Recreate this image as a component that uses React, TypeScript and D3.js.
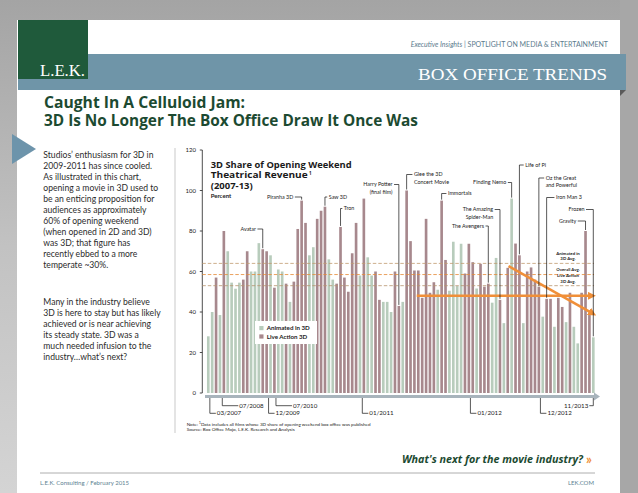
import React from "react";
import * as d3 from "d3";

// ---------- DATA ----------
const shares = [
  28, 40, 57, 38.5, 80, 70, 54.5, 51.5, 54.5, 56,
  70, 60, 60, 74, 71, 70, 68, 52, 61, 60,
  54, 45, 55, 81, 95, 84, 68, 72, 86, 90,
  92, 66, 56, 54, 82, 57, 50, 69, 84, 58,
  96, 67, 58, 60, 46, 45, 45, 40, 60, 43,
  45, 100, 75, 60.5, 60.5, 47, 86, 49.5, 54.7, 51,
  95, 65.7, 50.5, 74.7, 52.8, 73.7, 59, 73.7, 64.6, 51.6,
  63.8, 52.5, 54, 44.6, 66.7, 46, 34.5, 61.8, 96, 73.8,
  68, 34.5, 60, 62, 56, 52.5, 37.7, 46.5, 46.5, 32.7,
  47, 42.5, 35, 49.5, 32.7, 24.5, 49.5, 80, 38.5, 27.5,
];
// A = Animated in 3D, L = Live Action 3D
const filmType = (
  "AALALAAAAL" + "LAAALLALAA" + "LALLLLAALL" + "LAALLLLLLA" + "LAALLAAALL" +
  "ALLLLLLLLA" + "LLAAAALLLA" + "LLLAALALAL" + "LALLLLALLA" + "LLALAALLLA"
).split("");

const seriesNames = ["Animated in 3D", "Live Action 3D"];
const yTicks = [0, 20, 40, 60, 80, 100, 120];

const averages = [
  { key: "anim", label: ["Animated in", "3D Avg."], value: 64 },
  { key: "all", label: ["Overall Avg."], value: 58.5 },
  { key: "live", label: ["Live Action", "3D Avg."], value: 53 },
];

const annotations = [
  { film: ["Avatar"], bar: 14 },
  { film: ["Piranha 3D"], bar: 24 },
  { film: ["Saw 3D"], bar: 30 },
  { film: ["Tron"], bar: 34 },
  { film: ["Harry Potter", "(final film)"], bar: 49 },
  { film: ["Glee the 3D", "Concert Movie"], bar: 51 },
  { film: ["Immortals"], bar: 60 },
  { film: ["The Avengers"], bar: 72 },
  { film: ["The Amazing", "Spider-Man"], bar: 75 },
  { film: ["Finding Nemo"], bar: 78 },
  { film: ["Life of Pi"], bar: 80 },
  { film: ["Oz the Great", "and Powerful"], bar: 85 },
  { film: ["Iron Man 3"], bar: 87 },
  { film: ["Gravity"], bar: 97 },
  { film: ["Frozen"], bar: 99 },
];

const dateTicks = [
  { label: "03/2007", pos: 0.4 },
  { label: "07/2008", pos: 3.6 },
  { label: "12/2009", pos: 15.5 },
  { label: "07/2010", pos: 17.4 },
  { label: "01/2011", pos: 39.6 },
  { label: "01/2012", pos: 67.4 },
  { label: "12/2012", pos: 85.4 },
  { label: "11/2013", pos: 99 },
];

const flatTrend = [
  { pos: 53.6, value: 48 },
  { pos: 98.6, value: 48 },
];
const fallingTrend = [
  { pos: 77.2, value: 62.7 },
  { pos: 98.8, value: 39.3 },
];

const bodyText1 = [
  "Studios\u2019 enthusiasm for 3D in",
  "2009-2011 has since cooled.",
  "As illustrated in this chart,",
  "opening a movie in 3D used to",
  "be an enticing proposition for",
  "audiences as approximately",
  "60% of opening weekend",
  "(when opened in 2D and 3D)",
  "was 3D; that figure has",
  "recently ebbed to a more",
  "temperate ~30%.",
];
const bodyText2 = [
  "Many in the industry believe",
  "3D is here to stay but has likely",
  "achieved or is near achieving",
  "its steady state. 3D was a",
  "much needed infusion to the",
  "industry\u2026what\u2019s next?",
];

// ---------- LAYOUT ----------
const W = 638;
const H = 493;
const annLayout: Record<string, { side: "left" | "right"; y: number; gap: number }> = {
  Avatar: { side: "left", y: 229, gap: 6.5 },
  "Piranha 3D": { side: "left", y: 197, gap: 8 },
  "Saw 3D": { side: "right", y: 197, gap: 3.5 },
  Tron: { side: "right", y: 208.5, gap: 3 },
  "Harry Potter": { side: "left", y: 184.5, gap: 6 },
  "Glee the 3D": { side: "right", y: 174.5, gap: 7 },
  Immortals: { side: "right", y: 193.5, gap: 6 },
  "The Avengers": { side: "left", y: 226, gap: 4 },
  "The Amazing": { side: "left", y: 209.5, gap: 6.5 },
  "Finding Nemo": { side: "left", y: 182.5, gap: 5 },
  "Life of Pi": { side: "right", y: 165, gap: 5.5 },
  "Oz the Great": { side: "right", y: 178, gap: 6.5 },
  "Iron Man 3": { side: "right", y: 197.5, gap: 9 },
  Gravity: { side: "left", y: 221, gap: 9 },
  Frozen: { side: "left", y: 209.5, gap: 8.5 },
};
const tickLayout: Record<string, { row: number; lead: number; anchor: "start" | "end" }> = {
  "03/2007": { row: 2, lead: 6, anchor: "start" },
  "07/2008": { row: 1, lead: 16, anchor: "start" },
  "12/2009": { row: 2, lead: 6, anchor: "start" },
  "07/2010": { row: 1, lead: 16, anchor: "start" },
  "01/2011": { row: 2, lead: 6, anchor: "start" },
  "01/2012": { row: 2, lead: 6, anchor: "start" },
  "12/2012": { row: 2, lead: 6, anchor: "start" },
  "11/2013": { row: 1, lead: 4, anchor: "end" },
};
const avgLabelOffset: Record<string, number[]> = {
  anim: [-8.8, -3.6],
  all: [-3.6],
  live: [-8.2, -3.0],
};

const COL_ANIM = "#b8ccbc";
const COL_LIVE = "#a7888d";
const COL_ORANGE = "#f08f38";
const SANS = "Lato, 'Open Sans', sans-serif";

export default function App() {
  const n = shares.length;
  const x0 = 206.35;
  const x1 = 595.25;
  const xBand = d3
    .scaleBand<number>()
    .domain(d3.range(n))
    .range([x0, x1])
    .paddingInner(0.32)
    .paddingOuter(0.16);
  const step = xBand.step();
  const center = (p: number) => {
    const i = Math.floor(p);
    return (xBand(i) ?? 0) + xBand.bandwidth() / 2 + (p - i) * step;
  };
  const y = d3.scaleLinear().domain([0, 120]).range([393, 150]);
  const axisX = 202.3;

  const line = d3
    .line<{ pos: number; value: number }>()
    .x((d) => center(d.pos))
    .y((d) => y(d.value));

  const avgColors: Record<string, string> = {
    anim: "#c29a70",
    all: "#e58a36",
    live: "#b8946f",
  };

  return (
    <svg
      width={W}
      height={H}
      viewBox={`0 0 ${W} ${H}`}
      style={{ position: "absolute", left: 0, top: 0, display: "block" }}
      fontFamily={SANS}
    >
      <defs>
        <linearGradient id="bg" x1="0" y1="0" x2="0" y2="1">
          <stop offset="0" stopColor="#a4a4a4" />
          <stop offset="0.5" stopColor="#c2c2c2" />
          <stop offset="1" stopColor="#d4d4d4" />
        </linearGradient>
        <marker
          id="arrowO"
          viewBox="0 0 10 10"
          refX="5"
          refY="5"
          markerWidth="3.2"
          markerHeight="3.2"
          orient="auto"
        >
          <path d="M0,0 L10,5 L0,10 z" fill={COL_ORANGE} />
        </marker>
      </defs>

      {/* page background */}
      <rect x={0} y={0} width={W} height={H} fill="url(#bg)" />
      <rect x={620} y={0} width={18} height={H} fill="#a7a7a7" />
      <rect x={17} y={20} width={603} height={H - 20} fill="#ffffff" />

      {/* header */}
      <rect x={18} y={54} width={608} height={36} fill="#6f95a8" />
      <path d="M620,90 L626,90 L620,96 z" fill="#5a5a5a" />
      <rect x={18} y={20} width={70} height={59} fill="#1f5a3b" />
      <text
        x={40}
        y={76}
        fill="#ffffff"
        fontFamily="'Liberation Serif', 'DejaVu Serif', serif"
        fontSize={17}
        textLength={45}
        lengthAdjust="spacingAndGlyphs"
      >
        L.E.K.
      </text>
      <text
        x={607}
        y={80}
        fill="#ffffff"
        textAnchor="end"
        fontFamily="'Liberation Serif', 'DejaVu Serif', serif"
        fontSize={17.5}
        textLength={189}
        lengthAdjust="spacingAndGlyphs"
      >
        BOX OFFICE TRENDS
      </text>
      <text x={608} y={47} fill="#5b7b8d" textAnchor="end" fontSize={7}>
        <tspan fontStyle="italic">Executive Insights</tspan>
        <tspan> | SPOTLIGHT ON MEDIA &amp; ENTERTAINMENT</tspan>
      </text>

      {/* title */}
      <text
        x={44}
        y={108.3}
        fill="#1c4a31"
        fontFamily="'Open Sans', sans-serif"
        fontWeight="bold"
        fontSize={15.5}
        textLength={201}
        lengthAdjust="spacingAndGlyphs"
      >
        Caught In A Celluloid Jam:
      </text>
      <text
        x={44}
        y={125.7}
        fill="#1c4a31"
        fontFamily="'Open Sans', sans-serif"
        fontWeight="bold"
        fontSize={15.5}
        textLength={374}
        lengthAdjust="spacingAndGlyphs"
      >
        3D Is No Longer The Box Office Draw It Once Was
      </text>

      {/* triangle pointer */}
      <path d="M12,134 L12,164 L36,149 z" fill="#6d94ab" />

      {/* left text */}
      {bodyText1.map((t, i) => (
        <text key={"a" + i} x={43.3} y={158 + i * 11} fontSize={8.6} fill="#2b2b2b">
          {t}
        </text>
      ))}
      {bodyText2.map((t, i) => (
        <text key={"b" + i} x={43.3} y={304.7 + i * 11} fontSize={8.6} fill="#2b2b2b">
          {t}
        </text>
      ))}

      {/* divider */}
      <line x1={175} x2={175} y1={148} y2={433} stroke="#c9c9c9" strokeWidth={1} />

      {/* y axis */}
      <line x1={axisX} x2={axisX} y1={y(120)} y2={y(0)} stroke="#222" strokeWidth={0.8} />
      {yTicks.map((t) => (
        <g key={t}>
          <line x1={axisX - 2.5} x2={axisX} y1={y(t)} y2={y(t)} stroke="#222" strokeWidth={0.8} />
          <text x={196} y={y(t) + 2} fontSize={6} textAnchor="end" fill="#222">
            {t}
          </text>
        </g>
      ))}

      {/* bars */}
      {shares.map((v, i) => (
        <rect
          key={i}
          x={xBand(i)}
          y={y(v)}
          width={xBand.bandwidth()}
          height={y(0) - y(v)}
          fill={filmType[i] === "A" ? COL_ANIM : COL_LIVE}
        />
      ))}

      {/* average lines */}
      {averages.map((a) => (
        <line
          key={a.key}
          x1={axisX}
          x2={594}
          y1={y(a.value)}
          y2={y(a.value)}
          stroke={avgColors[a.key]}
          strokeWidth={0.8}
          strokeDasharray="3.5,2"
        />
      ))}
      {averages.map((a) =>
        a.label.map((l, j) => (
          <text
            key={a.key + j}
            x={568}
            y={y(a.value) + avgLabelOffset[a.key][j]}
            fontSize={4.4}
            fontWeight="bold"
            textAnchor="middle"
            fill="#222"
          >
            {l}
          </text>
        ))
      )}

      {/* trend arrows */}
      <path
        d={line(flatTrend) ?? ""}
        stroke={COL_ORANGE}
        strokeWidth={2.6}
        fill="none"
        markerEnd="url(#arrowO)"
      />
      <path
        d={line(fallingTrend) ?? ""}
        stroke={COL_ORANGE}
        strokeWidth={2.6}
        fill="none"
        markerEnd="url(#arrowO)"
      />

      {/* annotations */}
      {annotations.map((a) => {
        const lay = annLayout[a.film[0]];
        const cx = center(a.bar);
        const top = y(shares[a.bar]) - 1;
        const left = lay.side === "left";
        const hx = left ? cx - lay.gap + 1.2 : cx + lay.gap - 1.2;
        const tx = left ? cx - lay.gap - 0.3 : cx + lay.gap + 0.3;
        return (
          <g key={a.film[0]}>
            <path
              d={`M${hx},${lay.y} L${cx},${lay.y} L${cx},${top}`}
              stroke="#111"
              strokeWidth={0.7}
              fill="none"
            />
            {a.film.map((f, j) => (
              <text
                key={j}
                x={tx}
                y={lay.y + 1.8 + j * 7.5}
                fontSize={5.4}
                textAnchor={left ? "end" : "start"}
                fill="#222"
              >
                {f}
              </text>
            ))}
          </g>
        );
      })}

      {/* chart title */}
      <text x={210.7} y={167.5} fontSize={9.2} fontWeight="bold" fill="#1a1a1a"
        fontFamily="'Open Sans', sans-serif" textLength={141} lengthAdjust="spacingAndGlyphs">
        3D Share of Opening Weekend
      </text>
      <text x={210.7} y={178.2} fontSize={9.2} fontWeight="bold" fill="#1a1a1a"
        fontFamily="'Open Sans', sans-serif" textLength={97} lengthAdjust="spacingAndGlyphs">
        Theatrical Revenue
      </text>
      <text x={309} y={175} fontSize={4.5} fontWeight="bold" fill="#1a1a1a"
        fontFamily="'Open Sans', sans-serif">
        1
      </text>
      <text x={210.7} y={189} fontSize={9.2} fontWeight="bold" fill="#1a1a1a"
        fontFamily="'Open Sans', sans-serif" textLength={42} lengthAdjust="spacingAndGlyphs">
        (2007-13)
      </text>
      <text x={210.7} y={198} fontSize={6} fontWeight="bold" fill="#1a1a1a">
        Percent
      </text>

      {/* legend */}
      <rect x={255} y={321} width={62} height={23} fill="#ffffff" />
      {seriesNames.map((s, i) => (
        <g key={s}>
          <rect x={259.3} y={326 + i * 8.4} width={4.2} height={4.2} fill={i === 0 ? COL_ANIM : COL_LIVE} />
          <text x={266.7} y={330.3 + i * 8.4} fontSize={6.2} fontWeight="bold" fill="#222">
            {s}
          </text>
        </g>
      ))}

      {/* x axis band */}
      <rect x={205} y={395} width={390} height={3} fill="#a8b4bc" />
      <path d="M594,392.5 L600,396.5 L594,400.5 z" fill="#a8b4bc" />

      {/* date ticks */}
      {dateTicks.map((t) => {
        const lay = tickLayout[t.label];
        const cx = center(t.pos);
        const ry = lay.row === 1 ? 405.7 : 413.3;
        const end = lay.anchor === "start" ? cx + lay.lead : cx - lay.lead;
        return (
          <g key={t.label}>
            <path d={`M${cx},398 L${cx},${ry} L${end},${ry}`} stroke="#111" strokeWidth={0.7} fill="none" />
            <text
              x={lay.anchor === "start" ? end + 1 : end - 1}
              y={ry + 2}
              fontSize={6.2}
              textAnchor={lay.anchor}
              fill="#222"
            >
              {t.label}
            </text>
          </g>
        );
      })}

      {/* notes */}
      <text x={186.7} y={425.5} fontSize={4.6} fill="#222">
        Note: <tspan fontSize={3.2} dy={-1.5}>1</tspan>
        <tspan dy={1.5}>Data includes all films whose 3D share of opening weekend box office was published</tspan>
      </text>
      <text x={186.7} y={431} fontSize={4.6} fill="#222">
        Source: Box Office Mojo, L.E.K. Research and Analysis
      </text>

      {/* footer */}
      <text x={583} y={463} fontSize={10.5} fontWeight="bold" fontStyle="italic" textAnchor="end"
        fill="#1c4a31" fontFamily="'Open Sans', sans-serif" textLength={181} lengthAdjust="spacingAndGlyphs">
        What&apos;s next for the movie industry?
      </text>
      <text x={586} y={463.5} fontSize={13} fontWeight="bold" fill={COL_ORANGE}>
        &#187;
      </text>
      <line x1={40} x2={595} y1={473} y2={473} stroke="#9a9a9a" strokeWidth={0.8} />
      <text x={40} y={484.5} fontSize={6} fill="#5e7f92">
        L.E.K. Consulting / February 2015
      </text>
      <text x={594} y={484.5} fontSize={6} fill="#5e7f92" textAnchor="end">
        LEK.COM
      </text>
    </svg>
  );
}
